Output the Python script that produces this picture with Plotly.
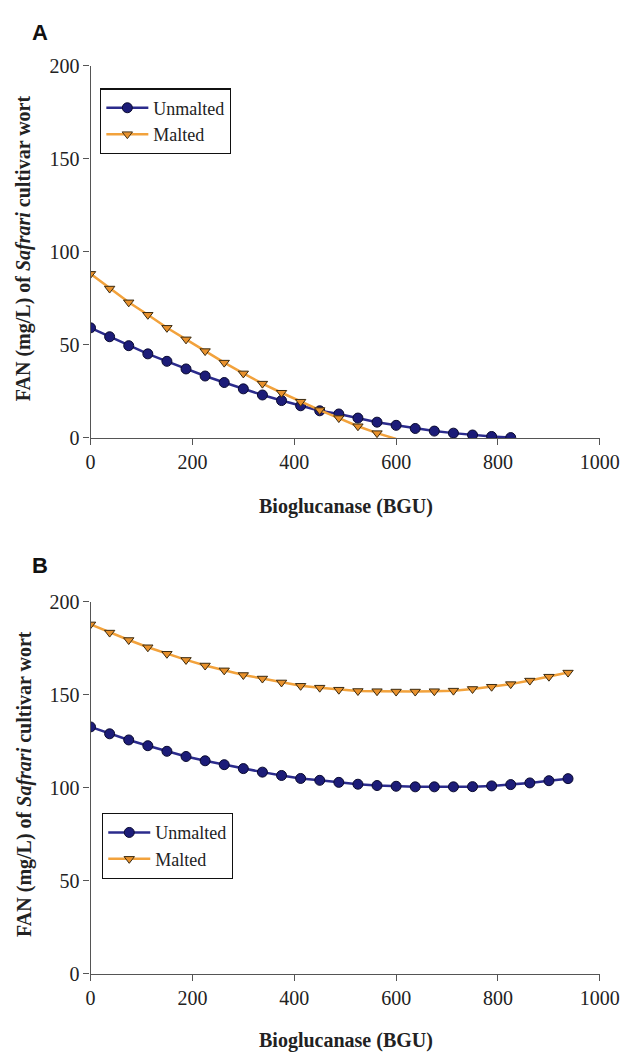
import plotly.graph_objects as go

# ---------------- data ----------------
step = 37.5
# Panel A
xA_unmalted = [i * step for i in range(23)]
yA_unmalted = [59.2, 54.4, 49.6, 45.2, 41.2, 37.1, 33.3, 29.8, 26.4, 23.1, 20.1, 17.3,
               14.6, 12.9, 10.7, 8.5, 6.8, 5.1, 3.7, 2.6, 1.6, 0.8, 0.2]
xA_malted = [i * step for i in range(17)]
yA_malted = [88.2, 80.3, 72.9, 66.2, 59.2, 53.0, 46.7, 40.5, 34.7, 29.2, 24.3, 19.5,
             15.0, 10.7, 6.3, 2.6, -0.5]
# Panel B
xB = [i * step for i in range(26)]
yB_unmalted = [132.6, 128.9, 125.6, 122.5, 119.5, 116.7, 114.4, 112.3, 110.2, 108.3,
               106.5, 104.9, 103.9, 102.8, 101.8, 101.1, 100.7, 100.4, 100.4, 100.4,
               100.5, 100.9, 101.6, 102.5, 103.7, 104.8]
yB_malted = [187.7, 183.3, 179.3, 175.4, 171.9, 168.6, 165.6, 163.0, 160.5, 158.6,
             156.5, 154.7, 153.7, 152.6, 151.9, 151.8, 151.6, 151.6, 151.8, 152.1,
             153.0, 154.2, 155.6, 157.5, 159.6, 161.8]

x_ticks = [0, 200, 400, 600, 800, 1000]
y_ticks = [0, 50, 100, 150, 200]
series_names = ["Unmalted", "Malted"]
panel_labels = ["A", "B"]
x_title = "Bioglucanase (BGU)"
y_title = "<b>FAN (mg/L) of <i>Safrari</i> cultivar wort</b>"

# ---------------- style ----------------
W, H = 641, 1062
NAVY = "#1c1c78"
NAVY_LINE = "#2b2b8c"
ORANGE_LINE = "#f2a23c"
ORANGE_FILL = "#e8912c"
SERIF = "Liberation Serif, Times New Roman, serif"
TEXT = "#222222"

def px_x(p):
    return p / W

def px_y(p):
    return 1 - p / H

fig = go.Figure()

def add_series(x, y, name, xa, ya, legend, malted):
    if malted:
        marker = dict(symbol="triangle-down", size=9, color=ORANGE_FILL,
                      line=dict(color="#3a2a10", width=1),
                      opacity=[1 if v >= 0 else 0 for v in y])
        line = dict(color=ORANGE_LINE, width=2.5)
    else:
        marker = dict(symbol="circle", size=10, color=NAVY,
                      line=dict(color="#0a0a30", width=1))
        line = dict(color=NAVY_LINE, width=2.5)
    fig.add_trace(go.Scatter(x=x, y=y, name=name, mode="lines+markers",
                             line=line, marker=marker, xaxis=xa, yaxis=ya,
                             legend=legend, cliponaxis=True))

add_series(xA_unmalted, yA_unmalted, series_names[0], "x", "y", "legend", False)
add_series(xA_malted, yA_malted, series_names[1], "x", "y", "legend", True)
add_series(xB, yB_unmalted, series_names[0], "x2", "y2", "legend2", False)
add_series(xB, yB_malted, series_names[1], "x2", "y2", "legend2", True)

x_dom = [px_x(89), px_x(619)]
axis_common = dict(showline=True, linecolor="#555555", linewidth=1.3,
                   ticks="outside", ticklen=6, tickcolor="#555555", tickwidth=1.3,
                   showgrid=False, zeroline=False,
                   tickfont=dict(family=SERIF, size=20, color=TEXT))

legend_common = dict(xanchor="left", yanchor="top",
                     bordercolor="#111111", borderwidth=1.2, bgcolor="white",
                     font=dict(family=SERIF, size=18, color=TEXT),
                     tracegroupgap=0, itemwidth=42)

fig.update_layout(
    width=W, height=H, margin=dict(l=0, r=0, t=0, b=0),
    paper_bgcolor="white", plot_bgcolor="white",
    xaxis=dict(domain=x_dom, range=[0, 1000], tickvals=x_ticks, anchor="y", **axis_common),
    yaxis=dict(domain=[px_y(436), px_y(56)], range=[0, 200], tickvals=y_ticks, anchor="x", **axis_common),
    xaxis2=dict(domain=x_dom, range=[0, 1000], tickvals=x_ticks, anchor="y2", **axis_common),
    yaxis2=dict(domain=[px_y(983), px_y(603)], range=[0, 200], tickvals=y_ticks, anchor="x2", **axis_common),
    legend=dict(x=px_x(99), y=px_y(79), **legend_common),
    legend2=dict(x=px_x(101), y=px_y(819), **legend_common),
)

ann = []
for lbl, ytop, xt_y, ymid in [(panel_labels[0], 22, 506, 242),
                              (panel_labels[1], 566, 1051, 789)]:
    ann.append(dict(text="<b>" + lbl + "</b>", x=px_x(26), y=px_y(ytop), xref="paper", yref="paper",
                    xanchor="left", yanchor="middle", showarrow=False,
                    font=dict(family="Liberation Sans, Arial, sans-serif", size=22, color="#111111")))
    ann.append(dict(text="<b>" + x_title + "</b>", x=px_x(355), y=px_y(xt_y), xref="paper", yref="paper",
                    xanchor="center", yanchor="middle", showarrow=False,
                    font=dict(family=SERIF, size=20, color=TEXT)))
    ann.append(dict(text=y_title, x=px_x(20), y=px_y(ymid), xref="paper", yref="paper",
                    xanchor="center", yanchor="middle", showarrow=False, textangle=-90,
                    font=dict(family=SERIF, size=20, color=TEXT)))
fig.update_layout(annotations=ann)

fig.write_html("out.html")
